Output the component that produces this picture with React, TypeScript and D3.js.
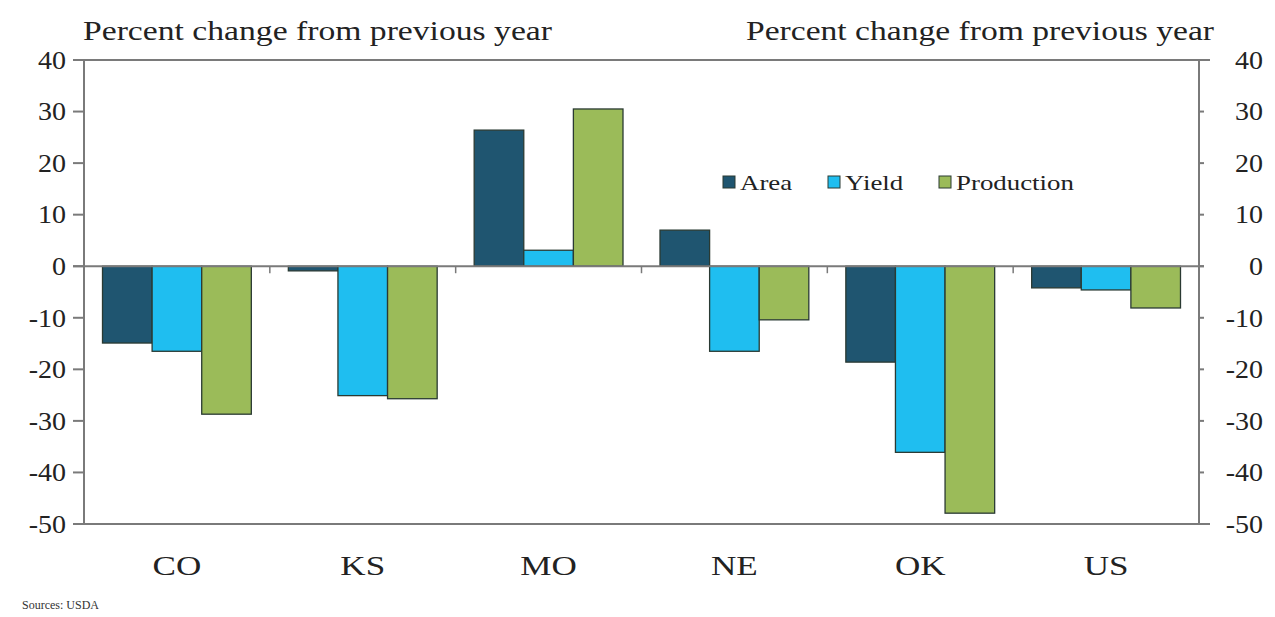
import React from "react";
import * as d3 from "d3";

const categories = ["CO", "KS", "MO", "NE", "OK", "US"];
const seriesNames = ["Area", "Yield", "Production"];
const areaValues = [-14.9, -0.9, 26.4, 7.0, -18.6, -4.2];
const yieldValues = [-16.5, -25.1, 3.1, -16.5, -36.1, -4.6];
const productionValues = [-28.7, -25.7, 30.5, -10.4, -47.9, -8.1];
const yTicks = [40, 30, 20, 10, 0, -10, -20, -30, -40, -50];
const colors = ["#1f5570", "#1fbef0", "#9bbb59"];
const axisTitle = "Percent change from previous year";
const sourceNote = "Sources: USDA";

const W = 1275;
const H = 617;
const left = 84;
const right = 1199;
const top = 60;
const bottom = 524;
const FONT = "'Liberation Serif', 'DejaVu Serif', serif";

function SText({
  x,
  y,
  sx,
  size,
  anchor,
  children,
  fill = "#222",
  dy,
}: {
  x: number;
  y: number;
  sx: number;
  size: number;
  anchor?: string;
  children: React.ReactNode;
  fill?: string;
  dy?: string;
}) {
  return (
    <g transform={`translate(${x},${y}) scale(${sx},1)`}>
      <text x={0} y={0} dy={dy} fontSize={size} textAnchor={anchor} fill={fill}>
        {children}
      </text>
    </g>
  );
}

export default function App() {
  const series = [areaValues, yieldValues, productionValues];
  const x = d3.scaleBand<string>().domain(categories).range([left, right]).padding(0);
  const inner = d3
    .scaleBand<string>()
    .domain(seriesNames)
    .range([0, x.bandwidth()])
    .paddingInner(0)
    .paddingOuter(0.373);
  const y = d3.scaleLinear().domain([-50, 40]).range([bottom, top]);
  const axisColor = "#7a7a7a";

  const boundaries = categories.slice(1).map((c) => x(c)!);
  const legendX = [723, 828, 939];

  return (
    <svg
      width={W}
      height={H}
      style={{ position: "absolute", left: 0, top: 0, background: "#fff" }}
      fontFamily={FONT}
    >
      <rect x={0} y={0} width={W} height={H} fill="#fff" />
      {/* titles */}
      <text x={83} y={40} fontSize={27} fill="#222" textLength={469} lengthAdjust="spacingAndGlyphs">
        {axisTitle}
      </text>
      <text x={746} y={40} fontSize={27} fill="#222" textLength={468} lengthAdjust="spacingAndGlyphs">
        {axisTitle}
      </text>

      {/* bars */}
      {categories.map((c, i) =>
        seriesNames.map((s, j) => {
          const v = series[j][i];
          const bx = x(c)! + inner(s)!;
          const y0 = y(0);
          const y1 = y(v);
          return (
            <rect
              key={c + s}
              x={bx}
              y={Math.min(y0, y1)}
              width={inner.bandwidth()}
              height={Math.abs(y1 - y0)}
              fill={colors[j]}
              stroke="#2a3a33"
              strokeWidth={1.3}
            />
          );
        })
      )}

      {/* top & bottom frame lines */}
      <line x1={73} x2={1210} y1={y(40)} y2={y(40)} stroke={axisColor} strokeWidth={2} />
      <line x1={73} x2={1210} y1={y(-50)} y2={y(-50)} stroke={axisColor} strokeWidth={2} />
      {/* zero line */}
      <line x1={73} x2={1204} y1={y(0)} y2={y(0)} stroke={axisColor} strokeWidth={2} />
      {boundaries.map((bx, i) => (
        <line key={i} x1={bx} x2={bx} y1={y(0)} y2={y(0) + 7} stroke={axisColor} strokeWidth={1.5} />
      ))}

      {/* left axis */}
      <line x1={left} x2={left} y1={top} y2={bottom} stroke={axisColor} strokeWidth={2} />
      {yTicks.map((t) => (
        <g key={"l" + t}>
          <line x1={73} x2={left} y1={y(t)} y2={y(t)} stroke={axisColor} strokeWidth={2} />
          <SText x={66} y={y(t)} dy="0.35em" sx={1.12} size={25} anchor="end">
            {t}
          </SText>
        </g>
      ))}

      {/* right axis */}
      <line x1={right} x2={right} y1={top} y2={bottom} stroke={axisColor} strokeWidth={2} />
      {yTicks.map((t) => (
        <g key={"r" + t}>
          <line x1={right} x2={1204} y1={y(t)} y2={y(t)} stroke={axisColor} strokeWidth={2} />
          <SText x={1263} y={y(t)} dy="0.35em" sx={1.12} size={25} anchor="end">
            {t}
          </SText>
        </g>
      ))}

      {/* category labels */}
      {categories.map((c) => (
        <SText key={"c" + c} x={x(c)! + x.bandwidth() / 2} y={575} sx={1.3} size={27} anchor="middle">
          {c}
        </SText>
      ))}

      {/* legend */}
      {seriesNames.map((s, j) => {
        const lx = legendX[j];
        return (
          <g key={"lg" + s}>
            <rect x={lx} y={176} width={12} height={12} fill={colors[j]} stroke="#2a3a33" strokeWidth={1} />
            <SText x={lx + 17} y={190} sx={1.28} size={21}>
              {s}
            </SText>
          </g>
        );
      })}

      <text x={22} y={609} fontSize={12} fill="#333">
        {sourceNote}
      </text>
    </svg>
  );
}
